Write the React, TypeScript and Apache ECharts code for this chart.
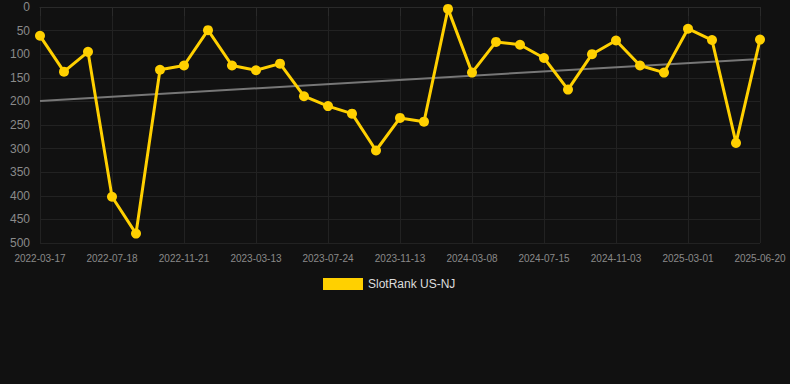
import React, { useEffect, useRef } from "react";
import * as echarts from "echarts";

const categories: string[] = [
  "2022-03-17", "2022-04-27", "2022-06-07",
  "2022-07-18", "2022-08-29", "2022-10-10",
  "2022-11-21", "2022-12-28", "2023-02-03",
  "2023-03-13", "2023-04-26", "2023-06-09",
  "2023-07-24", "2023-08-31", "2023-10-07",
  "2023-11-13", "2023-12-20", "2024-01-29",
  "2024-03-08", "2024-04-16", "2024-05-28",
  "2024-07-15", "2024-08-22", "2024-09-28",
  "2024-11-03", "2024-12-11", "2025-01-19",
  "2025-03-01", "2025-04-07", "2025-05-14",
  "2025-06-20",
];

const rankValues: number[] = [
  61, 137, 95, 402, 480, 133, 124, 49, 124, 134, 120, 189, 210, 226, 304, 235,
  243, 4, 139, 74, 80, 108, 175, 100, 71, 124, 139, 46, 70, 288, 69,
];

const trendStart = 199;
const trendEnd = 110;

const seriesName = "SlotRank US-NJ";

export default function App() {
  const ref = useRef<HTMLDivElement>(null);
  useEffect(() => {
    document.body.style.margin = "0";
    if (!ref.current) return;
    const chart = echarts.init(ref.current, undefined, { renderer: "svg" });
    const trendData = categories.map((_, i) =>
      i === 0 ? trendStart : i === categories.length - 1 ? trendEnd : null
    );
    chart.setOption({
      animation: false,
      backgroundColor: "#111111",
      grid: { left: 40, right: 30, top: 7, bottom: 141, containLabel: false },
      legend: {
        data: [seriesName],
        top: 273,
        left: 318,
        icon: "rect",
        itemWidth: 40,
        itemHeight: 12,
        textStyle: { color: "#dddddd", fontSize: 12, fontFamily: "Arial, Liberation Sans, sans-serif" },
      },
      xAxis: {
        type: "category",
        data: categories,
        boundaryGap: false,
        axisLine: { show: true, lineStyle: { color: "#2a2a2a" } },
        axisTick: { show: true, interval: 2, length: 9, lineStyle: { color: "#2a2a2a" } },
        axisLabel: {
          interval: 2,
          color: "#8a8a8a",
          fontSize: 10,
          margin: 10,
          fontFamily: "Arial, Liberation Sans, sans-serif",
        },
        splitLine: { show: true, interval: 2, lineStyle: { color: "#222222" } },
      },
      yAxis: {
        type: "value",
        inverse: true,
        min: 0,
        max: 500,
        interval: 50,
        axisLine: { show: false },
        axisTick: { show: false },
        axisLabel: {
          color: "#8a8a8a",
          fontSize: 12,
          margin: 10,
          fontFamily: "Arial, Liberation Sans, sans-serif",
        },
        splitLine: { show: true, lineStyle: { color: "#222222" } },
      },
      series: [
        {
          name: seriesName,
          type: "line",
          data: rankValues,
          color: "#ffd000",
          symbol: "circle",
          symbolSize: 10,
          lineStyle: { width: 3, color: "#ffd000" },
          itemStyle: { color: "#ffd000" },
          z: 3,
        },
        {
          name: "Trend",
          type: "line",
          data: trendData,
          connectNulls: true,
          symbol: "none",
          lineStyle: { width: 2, color: "#777777" },
          z: 2,
        },
      ],
    });
    return () => chart.dispose();
  }, []);
  return <div ref={ref} style={{ width: 790, height: 384 }} />;
}
